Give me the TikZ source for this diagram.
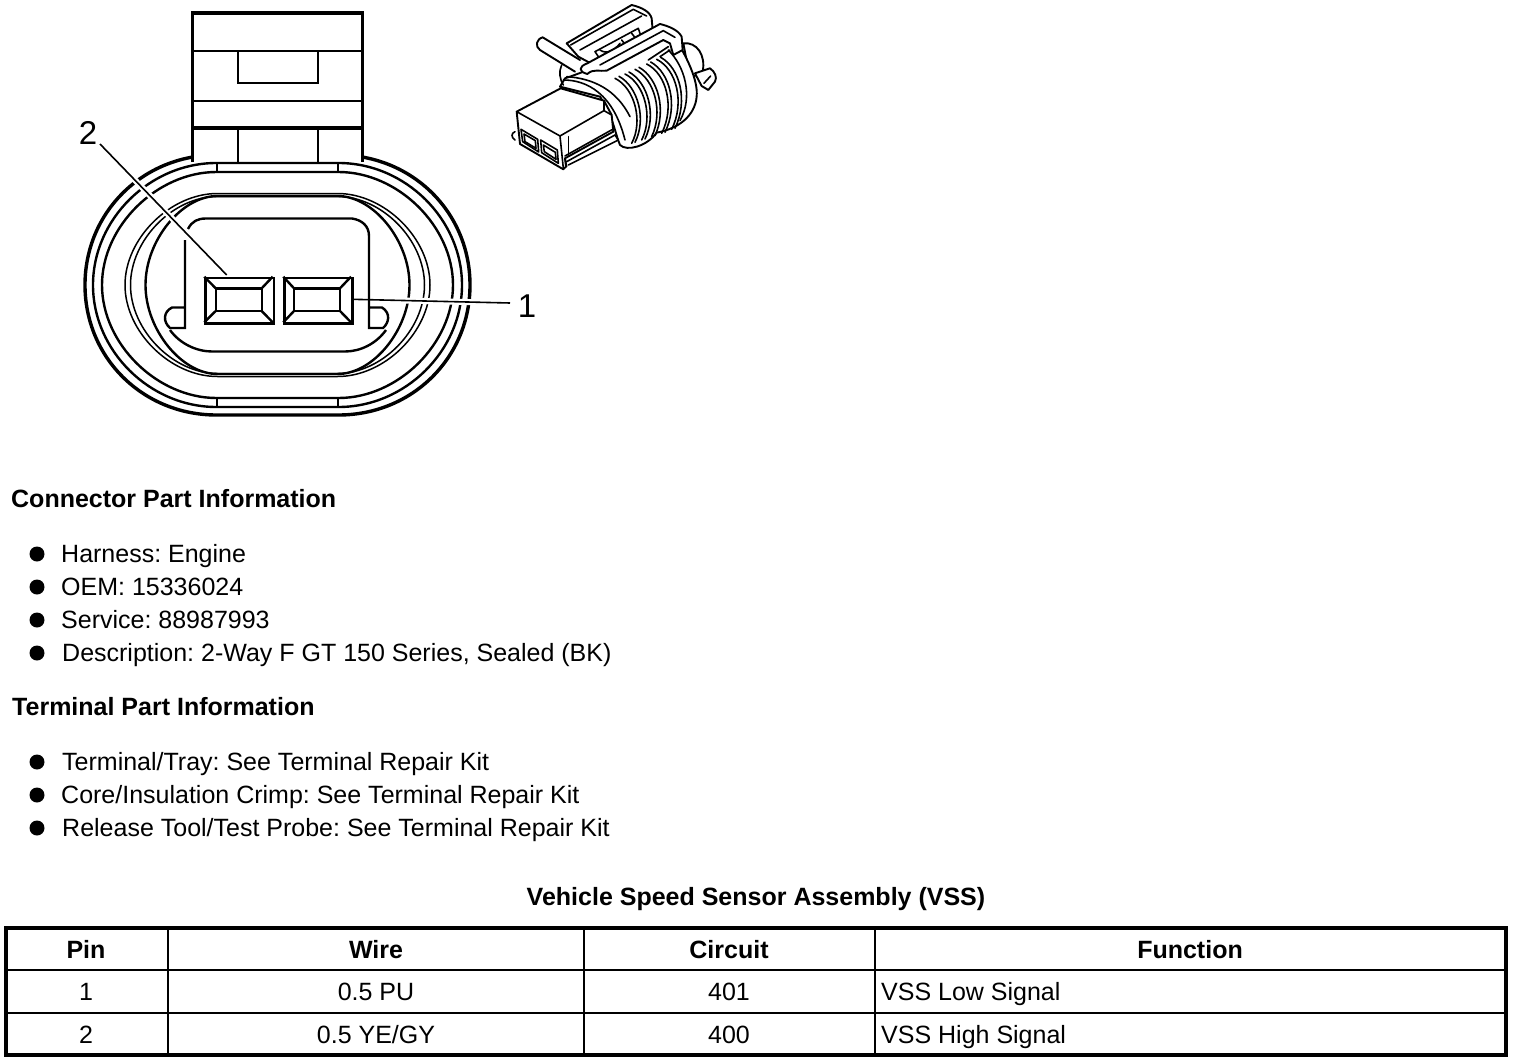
\documentclass[tikz,border=0pt]{standalone}
\usepackage{fontspec}
\usetikzlibrary{calc}
\setmainfont{Liberation Sans}
\newcommand{\ringp}[4]{% half width, half height, half flat, curve factor
 ({277.5-#3},{285-#2}) .. controls ({277.5-#3-#4*(#1-#3)},{285-#2}) and ({277.5-#1},{285-#4*#2}) .. ({277.5-#1},285)
 .. controls ({277.5-#1},{285+#4*#2}) and ({277.5-#3-#4*(#1-#3)},{285+#2}) .. ({277.5-#3},{285+#2})
 -- ({277.5+#3},{285+#2}) .. controls ({277.5+#3+#4*(#1-#3)},{285+#2}) and ({277.5+#1},{285+#4*#2}) .. ({277.5+#1},285)
 .. controls ({277.5+#1},{285-#4*#2}) and ({277.5+#3+#4*(#1-#3)},{285-#2}) .. ({277.5+#3},{285-#2}) -- cycle}
\tikzset{
 x=1pt,y=-1pt,
 ink/.style={draw=black,line width=2.4pt,line join=miter},
 thick ink/.style={draw=black,line width=3.4pt,line join=miter},
 thin ink/.style={draw=black,line width=1.5pt},
 leader/.style={draw=black,line width=1.6pt},
 halo/.style={draw=white,line width=6pt},
 iso/.style={draw=black,line width=1.9pt,fill=white,line join=round,line cap=round},
 isol/.style={draw=black,line width=1.6pt,line join=round,line cap=round},
 plain/.style={font=\fontsize{25}{29}\selectfont,anchor=base west,inner sep=0pt},
 head/.style={font=\fontsize{25}{29}\bfseries\selectfont,anchor=base west,inner sep=0pt},
 cellc/.style={font=\fontsize{25}{29}\selectfont,anchor=base,inner sep=0pt},
 cellh/.style={font=\fontsize{25}{29}\bfseries\selectfont,anchor=base,inner sep=0pt},
 callout/.style={font=\fontsize{33}{37}\selectfont,inner sep=0pt},
 dot/.style={circle,fill=black,minimum size=15pt,inner sep=0pt},
 grid line/.style={draw=black,line width=2pt},
 frame line/.style={draw=black,line width=3.6pt},
}
\begin{document}
\frenchspacing
\begin{tikzpicture}
\useasboundingbox (0,0) rectangle (1520,1062);
% --- face view
\draw[thick ink] \ringp{192.5}{130}{61}{0.56};
\fill[white] (192,8) rectangle (362,161);
\draw[ink] \ringp{184.5}{122}{61}{0.54};
\draw[ink] \ringp{175.5}{113}{61}{0.52};
\draw[ink] (217,163) -- (217,172) (338,163) -- (338,172);
\draw[ink] (217,398) -- (217,407) (338,398) -- (338,407);
\draw[thin ink] \ringp{152.5}{91.5}{60}{0.51};
\draw[thin ink] \ringp{147}{88.5}{60}{0.51};
\draw[ink] \ringp{132}{89}{60}{0.5};
% tab
\draw[thick ink] (192.5,162) -- (192.5,13) -- (362.3,13) -- (362.3,162);
\draw[ink] (192.5,51) -- (362.3,51) (192.5,101) -- (362.3,101);
\draw[thick ink] (192.5,128) -- (362.3,128);
\draw[ink] (238,51) -- (238,83) -- (318,83) -- (318,51);
\draw[ink] (238,128) -- (238,162) (318,128) -- (318,162);
% inner shape
\draw[ink] (188,229) .. controls (192,221) and (198,218.5) .. (206,218.5) -- (352,218.5) .. controls (362,220) and (369,226) .. (369,236) -- (369,328) -- (383,328)
 .. controls (389,323) and (391,313) .. (382,307.5) -- (369,307.5);
\draw[ink] (185,240) -- (185,328) -- (170,328) .. controls (163,322) and (163,312) .. (172,307.5) -- (185,307.5);
\draw[ink] (170,330) .. controls (180,344) and (197,351.5) .. (212,351.5) -- (345,351.5) .. controls (360,351.5) and (376,344) .. (386,330);
% terminals
\foreach \nm/\xa/\xb/\xc/\xd in {t2/204.3/215.7/261.7/272.7,t1/283.3/294/340/351}{
 \node[draw=black,line width=2.6pt,minimum width=\xd pt-\xa pt,minimum height=45.6pt,inner sep=0pt,anchor=north west] (\nm) at (\xa,276.7) {};
 \draw[ink] (\xb,288.3) rectangle (\xc,311);
 \draw[ink] (\xa,276.7) -- (\xb,288.3) (\xd,276.7) -- (\xc,288.3) (\xa,322.3) -- (\xb,311) (\xd,322.3) -- (\xc,311);
}
% callouts
\node[callout] (lab2) at (88,133) {2};
\node[callout] (lab1) at (527,306) {1};
\coordinate (lead2a) at (100,144);
\coordinate (lead2b) at (226.7,275);
\coordinate (lead1a) at (352,299.3);
\coordinate (lead1b) at (510,303);
\draw[halo] ($(lead2a)!0.2!(lead2b)$) -- ($(lead2a)!0.7!(lead2b)$);
\draw[halo] ($(lead1a)!0.3!(lead1b)$) -- ($(lead1a)!0.85!(lead1b)$);
\draw[leader] (lead2a) -- (lead2b);
\draw[leader] (lead1a) -- (lead1b);
% --- perspective sketch
\begin{scope}[shift={(500,0)},x=0.3333pt,y=-0.3333pt]
 % rear knob and tab
 \draw[iso] (550,130) .. controls (590,125) and (618,165) .. (608,215) -- (570,235) -- cycle;
 \draw[iso] (585,220) -- (630,205) .. controls (645,215) and (652,232) .. (645,245) -- (625,270) -- (605,258) -- cycle;
 \draw[isol] (612,250) -- (632,228);
 % upper clip
 \draw[iso] (200,130) -- (395,15) .. controls (425,22) and (450,35) .. (455,55) -- (458,90) -- (300,205) -- (235,170) -- cycle;
 \draw[isol] (212,135) -- (400,28) -- (440,48) (240,150) -- (425,48);
 \draw[isol] (285,155) -- (415,85) -- (425,115) -- (305,185) -- cycle;
 \draw[isol] (300,150) .. controls (320,165) and (345,150) .. (360,130) (365,120) -- (385,145) (395,100) -- (415,125);
 % arm
 \draw[iso] (225,215) -- (120,150) .. controls (105,140) and (108,118) .. (128,112) -- (240,180);
 % rear flange
 \draw[iso] (195,235) .. controls (300,200) and (450,130) .. (520,105) .. controls (560,170) and (595,240) .. (590,290)
   .. controls (585,345) and (540,385) .. (470,398) .. controls (440,440) and (380,455) .. (360,435)
   .. controls (345,400) and (340,350) .. (300,290) -- (180,260) -- cycle;
 % ribs
 \foreach \xa/\ya/\xb/\yb in {
   345/235/395/430, 375/222/425/420, 405/208/455/410, 440/192/485/400, 470/178/515/388}{
  \draw[isol] (\xa,\ya) .. controls ({\xa+60},{\ya+30}) and ({\xa+85},{\ya+130}) .. (\xb,\yb);
  \draw[isol] ({\xa+12},{\ya-6}) .. controls ({\xa+70},{\ya+26}) and ({\xa+95},{\ya+124}) .. ({\xb+10},{\yb-3});
 }
 \draw[isol] (505,150) .. controls (555,200) and (580,290) .. (540,362);
 \draw[isol] (190,240) .. controls (260,240) and (340,280) .. (375,420);
 \draw[isol] (200,230) .. controls (280,235) and (350,270) .. (390,350);
 \draw[isol] (185,195) .. controls (175,215) and (180,240) .. (190,255);
 % lower clip band
 \draw[iso] (262,190) -- (480,72) .. controls (505,78) and (535,90) .. (545,110) -- (548,150) -- (520,165) -- (510,130) -- (490,120) -- (320,212) .. controls (300,215) and (280,205) .. (262,222) .. controls (235,215) and (235,200) .. (262,190) -- cycle;
 \draw[isol] (300,195) -- (490,92) -- (525,112);
 \draw[isol] (445,180) -- (505,140) (480,170) -- (510,150);
 % plug
 \draw[iso] (50,335) -- (182,265) -- (312,302) -- (335,345) -- (340,395) -- (195,475) -- (198,500) -- (190,508) -- (60,432) -- cycle;
 \draw[isol] (50,335) -- (180,408) -- (190,505);
 \draw[isol] (180,408) -- (312,332) -- (312,302);
 \draw[isol] (312,332) -- (335,345);
 \draw[isol] (205,410) -- (205,465);
 \draw[isol] (195,468) -- (338,388) (200,485) -- (345,405);
 \draw[isol] (195,475) -- (200,500);
 \draw[isol] (345,405) -- (355,420) -- (205,495);
 \draw[isol] (45,395) .. controls (33,400) and (33,412) .. (45,420);
 % windows
 \draw[isol] (63,388) -- (113,418) -- (116,456) -- (68,425) -- cycle;
 \draw[isol] (72,402) -- (106,422) -- (108,445) -- (75,425) -- cycle;
 \draw[isol] (122,420) -- (172,450) -- (175,490) -- (125,458) -- cycle;
 \draw[isol] (130,435) -- (166,457) -- (168,478) -- (133,455) -- cycle;
\end{scope}
% --- text
\node[head] (h1) at (11,507) {Connector Part Information};
\foreach \nm/\yy/\tx/\xx in {
 a/554/{Harness: Engine}/61, b/587/{OEM: 15336024}/61, c/620/{Service: 88987993}/61,
 d/653/{Description: 2-Way F GT 150 Series, Sealed (BK)}/62,
 e/762/{Terminal/Tray: See Terminal Repair Kit}/62, f/795/{Core/Insulation Crimp: See Terminal Repair Kit}/61,
 g/828/{Release Tool/Test Probe: See Terminal Repair Kit}/62}{
 \node[dot] (dot\nm) at (37,\yy) {};
 \node[plain] (txt\nm) at (\xx,\yy+8) {\tx};
}
\node[head] (h2) at (12,715) {Terminal Part Information};
\node[cellh] (title) at (756,905) {Vehicle Speed Sensor Assembly (VSS)};
% --- table
\draw[frame line] (6,928) rectangle (1506,1055);
\draw[grid line] (6,970) -- (1506,970);
\draw[grid line] (6,1013) -- (1506,1013);
\draw[grid line] (167.5,928) -- (167.5,1055);
\draw[grid line] (584,928) -- (584,1055);
\draw[grid line] (875,928) -- (875,1055);
\node[cellh] (c11) at (86,958) {Pin};
\node[cellh] (c12) at (376,958) {Wire};
\node[cellh] (c13) at (729,958) {Circuit};
\node[cellh] (c14) at (1190,958) {Function};
\node[cellc] (c21) at (86,1000) {1};
\node[cellc] (c22) at (376,1000) {0.5 PU};
\node[cellc] (c23) at (729,1000) {401};
\node[plain] (c24) at (881,1000) {VSS Low Signal};
\node[cellc] (c31) at (86,1043) {2};
\node[cellc] (c32) at (376,1043) {0.5 YE/GY};
\node[cellc] (c33) at (729,1043) {400};
\node[plain] (c34) at (881,1043) {VSS High Signal};
\end{tikzpicture}
\end{document}
